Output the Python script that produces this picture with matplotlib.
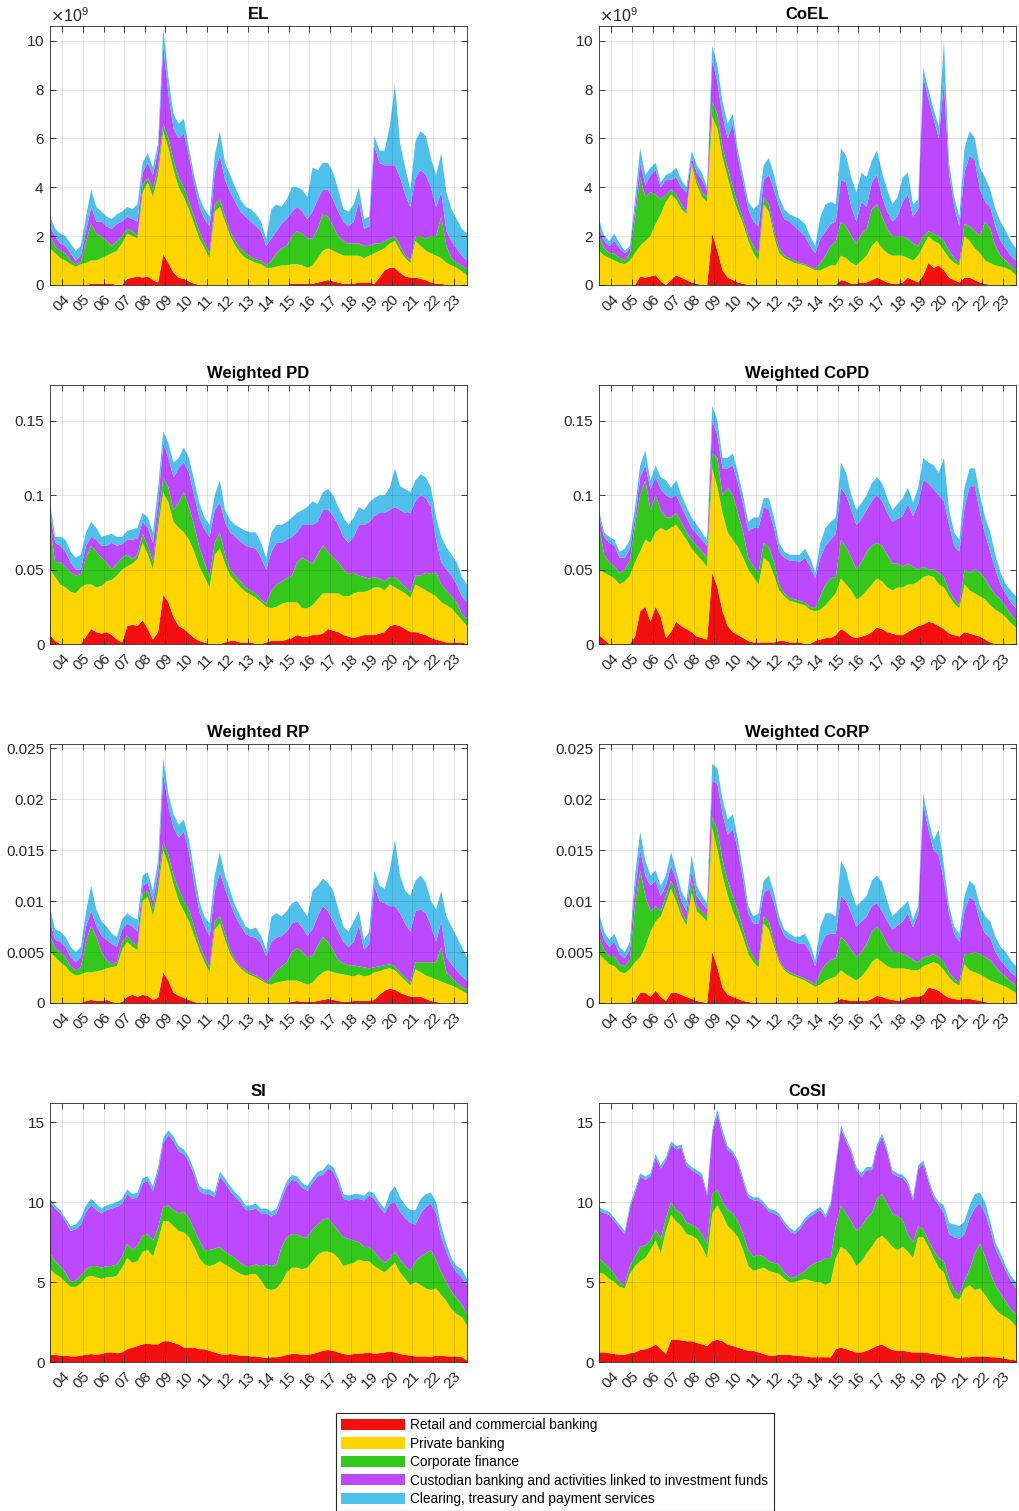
import matplotlib
matplotlib.use("Agg")
import matplotlib.pyplot as plt
import numpy as np
from matplotlib.patches import Patch
from matplotlib.ticker import MultipleLocator, ScalarFormatter, FuncFormatter

plt.rcParams['font.family'] = ['Liberation Sans', 'DejaVu Sans']

# quarterly observations, in decimal years
dates = 2003.4 + 0.25 * np.arange(82)

business_lines = ['Retail and commercial banking',
                  'Private banking',
                  'Corporate finance',
                  'Custodian banking and activities linked to investment funds',
                  'Clearing, treasury and payment services']
line_colors = ['#F20F0F', '#FFD500', '#35C81C', '#BC48FF', '#4FBFEC']

year_ticks = list(range(2004, 2024))
year_labels = ['%02d' % (y % 100) for y in year_ticks]

# every series below is a stacked level (cumulative from the bottom layer up)

# EL, in 1e9
el_retail = [0, 0, 0, 0, 0, 0, 0, 0, 0.05, 0.05,
             0.05, 0.05, 0.05, 0, 0, 0.25, 0.3, 0.35, 0.3, 0.35,
             0.2, 0.1, 1.25, 0.9, 0.5, 0.3, 0.25, 0.15, 0.05, 0,
             0, 0, 0, 0, 0, 0, 0, 0, 0, 0,
             0, 0, 0, 0, 0, 0, 0, 0.05, 0.05, 0.05,
             0.05, 0.05, 0.1, 0.15, 0.2, 0.15, 0.1, 0.05, 0.05, 0.05,
             0.1, 0.1, 0.1, 0.05, 0.3, 0.6, 0.7, 0.7, 0.5, 0.35,
             0.3, 0.3, 0.25, 0.2, 0.1, 0.05, 0.05, 0, 0, 0,
             0, 0]
el_private = [1.5, 1.3, 1.1, 1.0, 0.85, 0.75, 0.85, 0.9, 1.0, 1.0,
              1.1, 1.2, 1.3, 1.4, 1.7, 2.1, 2.0, 1.9, 3.8, 4.2,
              3.6, 4.5, 6.3, 5.6, 4.7, 4.0, 3.6, 3.1, 2.5, 1.9,
              1.5, 1.1, 3.0, 3.2, 2.6, 2.0, 1.6, 1.3, 1.1, 1.0,
              0.9, 0.85, 0.7, 0.7, 0.75, 0.8, 0.8, 0.85, 0.85, 0.8,
              0.7, 0.8, 1.1, 1.4, 1.5, 1.4, 1.3, 1.2, 1.2, 1.2,
              1.2, 1.1, 1.2, 1.3, 1.4, 1.5, 1.7, 1.8, 1.4, 1.1,
              0.9, 1.8, 1.6, 1.4, 1.3, 1.2, 1.1, 0.9, 0.8, 0.7,
              0.55, 0.4]
el_corporate = [2.0, 1.6, 1.4, 1.3, 1.0, 0.85, 0.95, 1.8, 2.5, 2.1,
                2.0, 1.8, 1.6, 1.8, 2.0, 2.3, 2.2, 2.0, 4.1, 4.4,
                3.9, 4.8, 6.6, 6.0, 5.1, 4.4, 4.0, 3.4, 2.8, 2.2,
                1.7, 1.3, 3.3, 3.5, 2.8, 2.2, 1.8, 1.5, 1.3, 1.15,
                1.05, 1.0, 0.8, 1.0, 1.3, 1.5, 1.6, 2.0, 2.2, 2.1,
                1.9, 1.9, 2.3, 2.9, 2.8, 2.4, 2.0, 1.8, 1.7, 1.7,
                1.7, 1.6, 1.6, 1.7, 1.7, 1.8, 1.9, 2.0, 1.6, 1.2,
                1.0, 2.0, 2.0, 1.9, 2.0, 2.0, 2.8, 1.6, 1.1, 0.9,
                0.8, 0.65]
el_custodian = [2.4, 2.0, 1.7, 1.6, 1.3, 1.0, 1.2, 2.2, 3.2, 2.6,
                2.6, 2.4, 2.3, 2.5, 2.6, 2.8, 2.7, 2.6, 4.6, 5.0,
                4.5, 5.5, 9.8, 7.8, 6.4, 6.0, 6.2, 5.3, 4.2, 3.2,
                2.7, 2.4, 4.6, 5.3, 4.3, 3.8, 3.4, 3.0, 2.8, 2.6,
                2.4, 2.2, 1.6, 1.9, 2.2, 2.5, 2.7, 3.0, 3.2, 3.0,
                2.7, 3.0, 3.5, 3.9, 3.9, 3.5, 3.0, 2.6, 2.4, 2.6,
                3.4, 2.3, 2.4, 5.7, 5.0, 4.9, 4.9, 4.9, 4.4, 3.7,
                3.2, 4.4, 4.7, 4.5, 4.0, 3.2, 3.8, 2.2, 1.8, 1.5,
                1.2, 1.0]
el_clearing = [2.8, 2.3, 2.1, 2.0, 1.7, 1.4, 1.6, 2.8, 3.9, 3.2,
               3.0, 2.8, 2.7, 2.9, 3.0, 3.2, 3.1, 3.3, 5.0, 5.4,
               4.8, 5.8, 10.5, 8.5, 7.0, 6.6, 6.8, 5.6, 4.5, 3.6,
               3.1, 2.8, 5.3, 6.3, 5.0, 4.5, 4.0, 3.5, 3.2, 3.1,
               2.9, 2.6, 1.9, 3.1, 3.3, 3.2, 3.5, 4.0, 4.0, 3.9,
               3.6, 4.8, 4.7, 5.0, 5.0, 4.6, 3.9, 3.1, 3.0, 3.3,
               4.0, 2.7, 2.8, 6.1, 5.5, 5.5, 6.5, 8.2, 5.8, 4.8,
               3.9, 5.9, 6.3, 6.1, 5.2, 4.5, 5.4, 3.8, 3.1, 2.7,
               2.3, 2.1]

# CoEL, in 1e9
coel_retail = [0, 0, 0, 0, 0, 0, 0, 0, 0.35, 0.3,
               0.35, 0.4, 0.15, 0, 0.2, 0.4, 0.3, 0.2, 0.1, 0.05,
               0, 0, 2.1, 1.4, 0.6, 0.3, 0.2, 0.1, 0.05, 0,
               0, 0, 0, 0, 0, 0, 0, 0, 0, 0,
               0, 0, 0, 0, 0, 0, 0, 0.2, 0.15, 0.05,
               0.05, 0.1, 0.1, 0.2, 0.3, 0.2, 0.1, 0.05, 0.05, 0.1,
               0.3, 0.2, 0.1, 0.4, 0.9, 0.7, 0.8, 0.6, 0.3, 0.2,
               0.1, 0.3, 0.3, 0.2, 0.1, 0.05, 0, 0, 0, 0,
               0, 0]
coel_private = [1.4, 1.2, 1.1, 1.0, 0.9, 0.85, 1.0, 1.3, 1.6, 1.8,
                2.0, 2.5, 2.9, 3.4, 3.7, 3.5, 3.1, 2.9, 4.9, 4.1,
                3.6, 3.4, 6.9, 6.4, 5.2, 4.4, 3.6, 3.0, 2.5, 1.8,
                1.3, 1.0, 3.3, 3.0, 2.0, 1.3, 1.1, 1.0, 0.9, 0.85,
                0.8, 0.7, 0.6, 0.6, 0.7, 0.8, 0.8, 1.2, 1.1, 0.9,
                0.8, 1.0, 1.2, 1.6, 1.8, 1.5, 1.3, 1.2, 1.2, 1.2,
                1.1, 1.0, 1.2, 1.6, 2.0, 1.8, 1.7, 1.4, 1.1, 0.9,
                0.8, 2.0, 1.8, 1.5, 1.3, 1.0, 0.9, 0.8, 0.75, 0.7,
                0.6, 0.4]
coel_corporate = [2.0, 1.5, 1.3, 1.3, 1.1, 1.0, 1.3, 2.7, 4.4, 3.6,
                  3.8, 3.7, 3.5, 3.7, 3.9, 3.7, 3.3, 3.0, 5.0, 4.3,
                  3.8, 3.6, 7.5, 7.0, 5.6, 4.8, 4.0, 3.3, 2.7, 2.0,
                  1.6, 1.3, 3.6, 3.3, 2.2, 1.5, 1.2, 1.1, 1.0, 0.9,
                  0.85, 0.75, 0.65, 0.9, 1.2, 1.6, 1.8, 2.6, 2.4, 2.0,
                  1.7, 2.1, 2.3, 3.1, 3.3, 2.8, 2.3, 2.0, 2.0, 2.0,
                  1.9, 1.7, 1.6, 2.0, 2.2, 2.1, 2.0, 1.8, 1.4, 1.1,
                  0.9, 2.5, 2.4, 2.2, 2.0, 2.6, 2.3, 1.6, 1.2, 1.0,
                  0.8, 0.6]
coel_custodian = [2.3, 1.8, 1.6, 1.8, 1.5, 1.3, 1.5, 3.1, 5.0, 4.1,
                  4.5, 4.7, 4.0, 4.3, 4.3, 4.4, 4.0, 3.8, 5.2, 4.6,
                  4.3, 3.9, 9.2, 8.3, 6.9, 6.0, 6.6, 5.2, 4.2, 3.1,
                  2.6, 2.4, 4.3, 4.5, 3.9, 3.2, 2.7, 2.6, 2.4, 2.2,
                  2.0, 1.6, 1.3, 1.9, 2.2, 2.5, 2.6, 4.3, 4.2, 3.2,
                  2.6, 3.4, 3.2, 4.2, 4.5, 3.6, 3.0, 2.6, 2.8, 3.4,
                  3.7, 2.8, 3.1, 8.5, 7.6, 6.8, 6.0, 8.3, 4.6, 3.2,
                  2.4, 4.6, 5.3, 5.1, 3.9, 3.4, 3.2, 2.4, 1.8, 1.5,
                  1.2, 1.0]
coel_clearing = [2.7, 2.0, 1.8, 2.1, 1.7, 1.4, 1.6, 3.5, 5.6, 4.5,
                 4.8, 5.0, 4.2, 4.5, 4.6, 4.8, 4.3, 4.0, 5.5, 4.9,
                 4.6, 4.0, 9.8, 9.0, 7.5, 6.6, 7.0, 5.5, 4.5, 3.4,
                 3.1, 3.3, 4.9, 5.2, 4.5, 3.6, 3.1, 2.9, 2.8, 2.7,
                 2.5, 2.0, 1.6, 2.8, 3.3, 3.4, 3.3, 5.6, 5.3, 4.4,
                 3.8, 4.6, 4.4, 5.1, 5.5, 4.6, 3.9, 3.3, 3.6, 4.4,
                 4.6, 3.3, 3.5, 8.9, 8.0, 7.2, 6.5, 10.0, 5.0, 3.6,
                 2.8, 5.6, 6.3, 6.0, 4.8, 4.4, 3.9, 3.1, 2.6, 2.2,
                 1.8, 1.5]

# Weighted PD
pd_retail = [0.006, 0.002, 0, 0, 0, 0, 0, 0.005, 0.010, 0.008,
             0.007, 0.008, 0.006, 0.003, 0.001, 0.012, 0.013, 0.012, 0.016, 0.010,
             0.003, 0.008, 0.033, 0.028, 0.018, 0.012, 0.010, 0.007, 0.004, 0.002,
             0.001, 0, 0, 0, 0.001, 0.002, 0.002, 0.001, 0.001, 0.001,
             0, 0, 0.001, 0.002, 0.002, 0.002, 0.003, 0.004, 0.006, 0.005,
             0.005, 0.006, 0.006, 0.007, 0.010, 0.009, 0.008, 0.006, 0.005, 0.004,
             0.005, 0.006, 0.006, 0.006, 0.007, 0.008, 0.012, 0.013, 0.012, 0.010,
             0.008, 0.008, 0.007, 0.006, 0.004, 0.003, 0.002, 0.001, 0.001, 0.001,
             0.001, 0]
pd_private = [0.050, 0.045, 0.040, 0.038, 0.035, 0.034, 0.038, 0.040, 0.040, 0.038,
              0.039, 0.042, 0.043, 0.046, 0.050, 0.052, 0.054, 0.057, 0.068, 0.060,
              0.050, 0.078, 0.102, 0.095, 0.082, 0.078, 0.075, 0.070, 0.062, 0.052,
              0.045, 0.038, 0.060, 0.064, 0.054, 0.046, 0.042, 0.038, 0.035, 0.033,
              0.031, 0.028, 0.025, 0.024, 0.025, 0.027, 0.028, 0.028, 0.028, 0.024,
              0.024, 0.026, 0.030, 0.034, 0.034, 0.034, 0.034, 0.032, 0.032, 0.034,
              0.035, 0.035, 0.036, 0.038, 0.038, 0.036, 0.040, 0.038, 0.036, 0.034,
              0.031, 0.040, 0.038, 0.036, 0.034, 0.032, 0.028, 0.026, 0.024, 0.020,
              0.016, 0.012]
pd_corporate = [0.080, 0.055, 0.055, 0.052, 0.048, 0.046, 0.047, 0.058, 0.066, 0.062,
                0.058, 0.055, 0.050, 0.054, 0.058, 0.060, 0.057, 0.060, 0.074, 0.066,
                0.055, 0.083, 0.112, 0.105, 0.090, 0.095, 0.102, 0.092, 0.080, 0.065,
                0.055, 0.045, 0.068, 0.075, 0.060, 0.050, 0.046, 0.042, 0.038, 0.036,
                0.034, 0.030, 0.027, 0.036, 0.040, 0.042, 0.044, 0.046, 0.055, 0.058,
                0.056, 0.054, 0.060, 0.066, 0.062, 0.058, 0.055, 0.050, 0.047, 0.048,
                0.046, 0.045, 0.044, 0.045, 0.044, 0.042, 0.045, 0.045, 0.042, 0.038,
                0.035, 0.046, 0.046, 0.048, 0.047, 0.048, 0.040, 0.036, 0.032, 0.028,
                0.020, 0.017]
pd_custodian = [0.088, 0.068, 0.066, 0.062, 0.055, 0.050, 0.050, 0.066, 0.072, 0.070,
                0.066, 0.066, 0.068, 0.066, 0.067, 0.070, 0.070, 0.071, 0.082, 0.078,
                0.068, 0.095, 0.135, 0.125, 0.112, 0.118, 0.122, 0.115, 0.100, 0.085,
                0.077, 0.072, 0.090, 0.095, 0.082, 0.075, 0.072, 0.069, 0.066, 0.065,
                0.064, 0.058, 0.050, 0.062, 0.068, 0.068, 0.070, 0.072, 0.075, 0.080,
                0.080, 0.080, 0.082, 0.090, 0.090, 0.086, 0.080, 0.072, 0.068, 0.072,
                0.080, 0.080, 0.082, 0.086, 0.088, 0.088, 0.090, 0.092, 0.090, 0.088,
                0.088, 0.096, 0.100, 0.098, 0.092, 0.070, 0.055, 0.050, 0.046, 0.040,
                0.032, 0.028]
pd_clearing = [0.095, 0.072, 0.072, 0.070, 0.062, 0.058, 0.060, 0.075, 0.082, 0.078,
               0.072, 0.073, 0.074, 0.072, 0.072, 0.076, 0.077, 0.078, 0.088, 0.085,
               0.075, 0.105, 0.143, 0.135, 0.122, 0.125, 0.132, 0.125, 0.110, 0.095,
               0.085, 0.080, 0.100, 0.110, 0.090, 0.083, 0.080, 0.078, 0.076, 0.075,
               0.075, 0.068, 0.058, 0.075, 0.080, 0.080, 0.082, 0.085, 0.088, 0.090,
               0.092, 0.096, 0.094, 0.102, 0.104, 0.100, 0.092, 0.085, 0.080, 0.085,
               0.092, 0.090, 0.095, 0.098, 0.100, 0.100, 0.105, 0.118, 0.106, 0.104,
               0.102, 0.110, 0.114, 0.112, 0.105, 0.085, 0.072, 0.065, 0.060, 0.055,
               0.045, 0.040]

# Weighted CoPD
copd_retail = [0.006, 0.003, 0, 0, 0, 0, 0, 0.005, 0.022, 0.025,
               0.015, 0.025, 0.018, 0.004, 0.008, 0.015, 0.012, 0.010, 0.008, 0.005,
               0.004, 0.003, 0.048, 0.038, 0.022, 0.012, 0.008, 0.006, 0.004, 0.002,
               0.001, 0.001, 0.001, 0.001, 0.001, 0.002, 0.002, 0.001, 0.001, 0.001,
               0, 0, 0.002, 0.003, 0.004, 0.004, 0.006, 0.010, 0.008, 0.005,
               0.004, 0.005, 0.006, 0.008, 0.011, 0.010, 0.008, 0.007, 0.006, 0.006,
               0.008, 0.010, 0.012, 0.013, 0.015, 0.014, 0.012, 0.010, 0.007, 0.006,
               0.005, 0.008, 0.007, 0.006, 0.005, 0.003, 0.001, 0, 0, 0,
               0, 0]
copd_private = [0.050, 0.048, 0.046, 0.044, 0.040, 0.042, 0.046, 0.055, 0.062, 0.070,
                0.068, 0.075, 0.078, 0.076, 0.078, 0.080, 0.075, 0.070, 0.064, 0.060,
                0.056, 0.052, 0.118, 0.105, 0.088, 0.075, 0.070, 0.065, 0.058, 0.050,
                0.045, 0.040, 0.058, 0.055, 0.046, 0.036, 0.032, 0.029, 0.028, 0.027,
                0.026, 0.023, 0.022, 0.023, 0.026, 0.030, 0.034, 0.044, 0.040, 0.036,
                0.030, 0.032, 0.036, 0.040, 0.044, 0.042, 0.038, 0.036, 0.038, 0.038,
                0.040, 0.040, 0.042, 0.045, 0.046, 0.045, 0.040, 0.038, 0.032, 0.027,
                0.024, 0.040, 0.036, 0.034, 0.032, 0.030, 0.026, 0.023, 0.021, 0.018,
                0.014, 0.011]
copd_corporate = [0.080, 0.060, 0.055, 0.052, 0.048, 0.050, 0.056, 0.080, 0.100, 0.110,
                  0.090, 0.100, 0.090, 0.085, 0.085, 0.088, 0.082, 0.075, 0.070, 0.066,
                  0.062, 0.058, 0.128, 0.125, 0.100, 0.105, 0.100, 0.088, 0.075, 0.058,
                  0.052, 0.048, 0.068, 0.065, 0.055, 0.040, 0.034, 0.031, 0.030, 0.029,
                  0.028, 0.025, 0.024, 0.032, 0.040, 0.044, 0.045, 0.070, 0.065, 0.058,
                  0.050, 0.055, 0.062, 0.066, 0.068, 0.066, 0.060, 0.054, 0.054, 0.052,
                  0.054, 0.052, 0.050, 0.052, 0.050, 0.050, 0.048, 0.045, 0.036, 0.030,
                  0.026, 0.050, 0.048, 0.050, 0.048, 0.044, 0.038, 0.033, 0.030, 0.025,
                  0.020, 0.016]
copd_custodian = [0.086, 0.072, 0.068, 0.066, 0.058, 0.058, 0.064, 0.085, 0.112, 0.120,
                  0.104, 0.112, 0.104, 0.100, 0.098, 0.100, 0.092, 0.085, 0.078, 0.074,
                  0.070, 0.066, 0.150, 0.140, 0.118, 0.118, 0.120, 0.108, 0.094, 0.076,
                  0.078, 0.078, 0.092, 0.090, 0.078, 0.062, 0.058, 0.056, 0.056, 0.055,
                  0.058, 0.052, 0.044, 0.058, 0.066, 0.070, 0.074, 0.105, 0.100, 0.090,
                  0.080, 0.084, 0.090, 0.096, 0.100, 0.096, 0.088, 0.082, 0.084, 0.086,
                  0.094, 0.086, 0.094, 0.110, 0.108, 0.104, 0.100, 0.096, 0.080, 0.066,
                  0.062, 0.092, 0.106, 0.106, 0.088, 0.074, 0.062, 0.050, 0.040, 0.034,
                  0.028, 0.024]
copd_clearing = [0.090, 0.075, 0.072, 0.070, 0.062, 0.064, 0.070, 0.092, 0.120, 0.130,
                 0.110, 0.120, 0.112, 0.110, 0.105, 0.110, 0.100, 0.092, 0.085, 0.080,
                 0.075, 0.070, 0.160, 0.150, 0.125, 0.125, 0.128, 0.115, 0.100, 0.082,
                 0.085, 0.085, 0.098, 0.098, 0.085, 0.068, 0.062, 0.060, 0.060, 0.060,
                 0.064, 0.058, 0.048, 0.068, 0.078, 0.082, 0.085, 0.122, 0.115, 0.100,
                 0.090, 0.095, 0.100, 0.108, 0.112, 0.108, 0.098, 0.090, 0.094, 0.098,
                 0.105, 0.095, 0.105, 0.125, 0.122, 0.120, 0.115, 0.125, 0.090, 0.075,
                 0.070, 0.105, 0.118, 0.118, 0.100, 0.085, 0.075, 0.060, 0.048, 0.040,
                 0.036, 0.032]

# Weighted RP
rp_retail = [0, 0, 0, 0, 0, 0, 0, 0.0002, 0.0003, 0.0002,
             0.0002, 0.0003, 0.0001, 0, 0.0001, 0.0006, 0.0008, 0.0006, 0.0008, 0.0007,
             0.0003, 0.0005, 0.0030, 0.0022, 0.0010, 0.0007, 0.0005, 0.0003, 0.0001, 0,
             0, 0, 0, 0, 0, 0, 0, 0, 0, 0,
             0, 0, 0, 0, 0, 0, 0, 0.0001, 0.0002, 0.0001,
             0.0001, 0.0001, 0.0002, 0.0003, 0.0004, 0.0003, 0.0002, 0.0001, 0.0001, 0.0002,
             0.0002, 0.0002, 0.0002, 0.0003, 0.0008, 0.0012, 0.0014, 0.0013, 0.0010, 0.0008,
             0.0006, 0.0006, 0.0006, 0.0004, 0.0002, 0.0001, 0, 0, 0, 0,
             0, 0]
rp_private = [0.0050, 0.0045, 0.0040, 0.0036, 0.0030, 0.0027, 0.0028, 0.0030, 0.0030, 0.0031,
              0.0032, 0.0034, 0.0035, 0.0036, 0.0052, 0.0060, 0.0055, 0.0052, 0.0100, 0.0104,
              0.0085, 0.0110, 0.0150, 0.0136, 0.0116, 0.0100, 0.0090, 0.0080, 0.0066, 0.0052,
              0.0040, 0.0030, 0.0072, 0.0078, 0.0062, 0.0048, 0.0040, 0.0034, 0.0030, 0.0027,
              0.0025, 0.0022, 0.0019, 0.0018, 0.0020, 0.0021, 0.0022, 0.0022, 0.0022, 0.0020,
              0.0018, 0.0020, 0.0026, 0.0030, 0.0032, 0.0030, 0.0029, 0.0028, 0.0027, 0.0026,
              0.0028, 0.0026, 0.0027, 0.0030, 0.0031, 0.0033, 0.0034, 0.0032, 0.0027, 0.0022,
              0.0017, 0.0033, 0.0030, 0.0027, 0.0025, 0.0023, 0.0021, 0.0019, 0.0017, 0.0015,
              0.0012, 0.0009]
rp_corporate = [0.0066, 0.0054, 0.0050, 0.0045, 0.0036, 0.0032, 0.0035, 0.0060, 0.0076, 0.0065,
                0.0050, 0.0042, 0.0038, 0.0040, 0.0060, 0.0066, 0.0060, 0.0056, 0.0108, 0.0110,
                0.0092, 0.0118, 0.0158, 0.0145, 0.0125, 0.0112, 0.0100, 0.0092, 0.0075, 0.0058,
                0.0045, 0.0035, 0.0080, 0.0085, 0.0068, 0.0052, 0.0042, 0.0036, 0.0032, 0.0029,
                0.0027, 0.0024, 0.0020, 0.0025, 0.0032, 0.0036, 0.0040, 0.0050, 0.0054, 0.0050,
                0.0045, 0.0046, 0.0056, 0.0065, 0.0060, 0.0052, 0.0042, 0.0039, 0.0037, 0.0037,
                0.0036, 0.0035, 0.0034, 0.0035, 0.0036, 0.0037, 0.0038, 0.0036, 0.0030, 0.0025,
                0.0020, 0.0040, 0.0040, 0.0040, 0.0040, 0.0040, 0.0055, 0.0030, 0.0025, 0.0020,
                0.0016, 0.0013]
rp_custodian = [0.0080, 0.0062, 0.0060, 0.0055, 0.0045, 0.0040, 0.0045, 0.0075, 0.0090, 0.0076,
                0.0066, 0.0062, 0.0058, 0.0055, 0.0072, 0.0078, 0.0075, 0.0070, 0.0115, 0.0118,
                0.0100, 0.0128, 0.0225, 0.0192, 0.0172, 0.0162, 0.0168, 0.0148, 0.0118, 0.0090,
                0.0076, 0.0065, 0.0110, 0.0128, 0.0112, 0.0098, 0.0085, 0.0076, 0.0068, 0.0065,
                0.0064, 0.0058, 0.0046, 0.0060, 0.0064, 0.0066, 0.0070, 0.0078, 0.0080, 0.0074,
                0.0066, 0.0072, 0.0085, 0.0095, 0.0090, 0.0080, 0.0070, 0.0060, 0.0055, 0.0060,
                0.0076, 0.0052, 0.0058, 0.0115, 0.0100, 0.0098, 0.0095, 0.0095, 0.0088, 0.0078,
                0.0070, 0.0090, 0.0092, 0.0088, 0.0076, 0.0060, 0.0080, 0.0045, 0.0038, 0.0032,
                0.0026, 0.0022]
rp_clearing = [0.0093, 0.0072, 0.0070, 0.0065, 0.0055, 0.0050, 0.0055, 0.0090, 0.0115, 0.0092,
               0.0080, 0.0075, 0.0068, 0.0065, 0.0082, 0.0088, 0.0084, 0.0082, 0.0125, 0.0128,
               0.0110, 0.0140, 0.0240, 0.0205, 0.0185, 0.0175, 0.0180, 0.0160, 0.0130, 0.0100,
               0.0085, 0.0078, 0.0125, 0.0148, 0.0125, 0.0110, 0.0095, 0.0085, 0.0075, 0.0072,
               0.0074, 0.0066, 0.0052, 0.0085, 0.0088, 0.0085, 0.0090, 0.0098, 0.0100, 0.0092,
               0.0085, 0.0110, 0.0115, 0.0122, 0.0118, 0.0110, 0.0092, 0.0075, 0.0070, 0.0080,
               0.0090, 0.0062, 0.0070, 0.0130, 0.0115, 0.0112, 0.0130, 0.0160, 0.0125, 0.0110,
               0.0105, 0.0120, 0.0125, 0.0118, 0.0100, 0.0092, 0.0110, 0.0085, 0.0075, 0.0065,
               0.0055, 0.0045]

# Weighted CoRP
corp_retail = [0, 0, 0, 0, 0, 0, 0, 0.0002, 0.0010, 0.0010,
               0.0006, 0.0012, 0.0006, 0.0002, 0.0010, 0.0010, 0.0008, 0.0006, 0.0004, 0.0002,
               0.0001, 0, 0.0050, 0.0035, 0.0015, 0.0008, 0.0006, 0.0004, 0.0002, 0.0001,
               0, 0, 0, 0, 0, 0, 0, 0, 0, 0,
               0, 0, 0, 0, 0, 0, 0.0001, 0.0004, 0.0003, 0.0002,
               0.0002, 0.0002, 0.0002, 0.0004, 0.0007, 0.0006, 0.0004, 0.0003, 0.0002, 0.0003,
               0.0005, 0.0006, 0.0006, 0.0008, 0.0015, 0.0014, 0.0012, 0.0008, 0.0005, 0.0004,
               0.0003, 0.0004, 0.0004, 0.0003, 0.0002, 0.0001, 0, 0, 0, 0,
               0, 0]
corp_private = [0.0048, 0.0043, 0.0038, 0.0036, 0.0031, 0.0029, 0.0033, 0.0040, 0.0045, 0.0055,
                0.0070, 0.0080, 0.0085, 0.0098, 0.0112, 0.0100, 0.0085, 0.0076, 0.0108, 0.0090,
                0.0085, 0.0080, 0.0172, 0.0150, 0.0125, 0.0105, 0.0090, 0.0078, 0.0064, 0.0048,
                0.0040, 0.0035, 0.0078, 0.0072, 0.0055, 0.0040, 0.0032, 0.0028, 0.0026, 0.0024,
                0.0022, 0.0019, 0.0016, 0.0018, 0.0022, 0.0024, 0.0026, 0.0032, 0.0028, 0.0025,
                0.0022, 0.0026, 0.0032, 0.0040, 0.0044, 0.0040, 0.0036, 0.0034, 0.0034, 0.0034,
                0.0033, 0.0032, 0.0032, 0.0036, 0.0038, 0.0040, 0.0038, 0.0032, 0.0025, 0.0020,
                0.0017, 0.0038, 0.0032, 0.0030, 0.0028, 0.0025, 0.0022, 0.0020, 0.0018, 0.0016,
                0.0013, 0.0010]
corp_corporate = [0.0065, 0.0052, 0.0046, 0.0046, 0.0038, 0.0036, 0.0042, 0.0095, 0.0130, 0.0105,
                  0.0090, 0.0095, 0.0090, 0.0105, 0.0120, 0.0108, 0.0090, 0.0080, 0.0120, 0.0095,
                  0.0090, 0.0085, 0.0182, 0.0170, 0.0140, 0.0120, 0.0105, 0.0090, 0.0072, 0.0055,
                  0.0045, 0.0040, 0.0085, 0.0080, 0.0060, 0.0042, 0.0034, 0.0030, 0.0028, 0.0026,
                  0.0024, 0.0021, 0.0018, 0.0030, 0.0038, 0.0042, 0.0044, 0.0065, 0.0060, 0.0052,
                  0.0045, 0.0050, 0.0058, 0.0070, 0.0075, 0.0068, 0.0058, 0.0050, 0.0050, 0.0048,
                  0.0046, 0.0042, 0.0040, 0.0045, 0.0046, 0.0048, 0.0045, 0.0040, 0.0030, 0.0024,
                  0.0020, 0.0048, 0.0048, 0.0050, 0.0048, 0.0045, 0.0042, 0.0036, 0.0030, 0.0026,
                  0.0021, 0.0017]
corp_custodian = [0.0078, 0.0062, 0.0055, 0.0060, 0.0048, 0.0044, 0.0052, 0.0112, 0.0150, 0.0125,
                  0.0115, 0.0120, 0.0105, 0.0115, 0.0135, 0.0120, 0.0100, 0.0090, 0.0130, 0.0105,
                  0.0098, 0.0092, 0.0218, 0.0215, 0.0185, 0.0165, 0.0170, 0.0150, 0.0120, 0.0088,
                  0.0078, 0.0078, 0.0108, 0.0112, 0.0098, 0.0078, 0.0066, 0.0062, 0.0060, 0.0058,
                  0.0058, 0.0050, 0.0036, 0.0055, 0.0066, 0.0068, 0.0068, 0.0105, 0.0100, 0.0088,
                  0.0075, 0.0080, 0.0085, 0.0095, 0.0098, 0.0090, 0.0080, 0.0072, 0.0076, 0.0080,
                  0.0088, 0.0074, 0.0088, 0.0195, 0.0170, 0.0150, 0.0145, 0.0120, 0.0088, 0.0068,
                  0.0060, 0.0090, 0.0104, 0.0100, 0.0080, 0.0068, 0.0064, 0.0050, 0.0042, 0.0036,
                  0.0030, 0.0026]
corp_clearing = [0.0088, 0.0070, 0.0062, 0.0068, 0.0055, 0.0050, 0.0060, 0.0125, 0.0168, 0.0140,
                 0.0125, 0.0130, 0.0115, 0.0125, 0.0148, 0.0130, 0.0110, 0.0100, 0.0145, 0.0115,
                 0.0105, 0.0098, 0.0235, 0.0230, 0.0200, 0.0180, 0.0185, 0.0160, 0.0130, 0.0095,
                 0.0085, 0.0088, 0.0120, 0.0125, 0.0108, 0.0085, 0.0072, 0.0068, 0.0065, 0.0065,
                 0.0068, 0.0058, 0.0042, 0.0075, 0.0088, 0.0088, 0.0085, 0.0140, 0.0130, 0.0110,
                 0.0095, 0.0100, 0.0105, 0.0120, 0.0125, 0.0118, 0.0100, 0.0085, 0.0090, 0.0095,
                 0.0100, 0.0082, 0.0095, 0.0205, 0.0180, 0.0160, 0.0170, 0.0135, 0.0095, 0.0075,
                 0.0068, 0.0105, 0.0120, 0.0115, 0.0095, 0.0085, 0.0080, 0.0065, 0.0055, 0.0050,
                 0.0042, 0.0036]

# SI
si_retail = [0.45, 0.45, 0.4, 0.4, 0.35, 0.35, 0.4, 0.45, 0.5, 0.45,
             0.5, 0.6, 0.6, 0.55, 0.6, 0.8, 0.9, 1.0, 1.1, 1.15,
             1.1, 1.1, 1.3, 1.3, 1.2, 1.1, 0.9, 0.9, 0.9, 0.8,
             0.8, 0.7, 0.6, 0.5, 0.45, 0.5, 0.45, 0.4, 0.4, 0.35,
             0.35, 0.3, 0.25, 0.3, 0.3, 0.35, 0.45, 0.5, 0.5, 0.45,
             0.45, 0.5, 0.6, 0.7, 0.75, 0.7, 0.6, 0.5, 0.45, 0.5,
             0.5, 0.55, 0.6, 0.5, 0.55, 0.6, 0.65, 0.6, 0.5, 0.45,
             0.4, 0.35, 0.35, 0.35, 0.3, 0.4, 0.4, 0.35, 0.35, 0.35,
             0.3, 0.1]
si_private = [5.8, 5.5, 5.3, 5.0, 4.7, 4.7, 4.9, 5.3, 5.4, 5.3,
              5.2, 5.3, 5.3, 5.4, 5.9, 6.5, 6.2, 6.3, 6.9, 7.0,
              6.6, 7.6, 8.8, 8.8, 8.5, 8.2, 8.1, 7.8, 7.2, 6.5,
              6.1, 6.0, 6.1, 6.3, 6.1, 5.9, 5.7, 5.5, 5.4, 5.5,
              5.5, 5.1, 4.6, 4.5, 4.6, 5.0, 5.6, 5.9, 5.9, 5.8,
              5.9, 6.3, 6.7, 6.9, 6.9, 6.8, 6.5, 6.0, 6.1, 6.2,
              6.4, 6.3, 6.3, 6.0, 5.8, 5.6, 5.9, 6.2, 5.6, 5.2,
              4.8, 5.0, 4.8, 4.6, 4.5, 4.6, 4.2, 3.8, 3.3, 3.0,
              2.8, 2.3]
si_corporate = [6.8, 6.3, 6.0, 5.6, 5.0, 5.1, 5.4, 5.8, 6.0, 6.0,
                5.9, 6.0, 6.0, 6.1, 6.6, 7.4, 7.0, 7.3, 7.9, 8.0,
                7.6, 8.4, 9.7, 9.8, 9.5, 9.3, 9.4, 9.0, 8.3, 7.6,
                7.0, 7.0, 7.1, 7.2, 6.9, 6.7, 6.5, 6.2, 6.0, 6.0,
                6.1, 6.0, 6.1, 6.0, 6.1, 7.2, 7.8, 8.0, 8.0, 7.8,
                7.8, 8.3, 8.6, 8.9, 9.0, 8.6, 8.2, 7.8, 7.7, 7.6,
                7.5, 7.2, 7.2, 6.9, 6.5, 6.2, 6.5, 6.9, 6.4, 6.0,
                5.7, 6.3, 6.6, 6.8, 7.0, 6.4, 5.6, 5.0, 4.4, 4.0,
                3.6, 3.0]
si_custodian = [10.0, 9.6, 9.3, 8.8, 8.2, 8.3, 8.6, 9.4, 9.8, 9.5,
                9.3, 9.5, 9.6, 9.7, 9.9, 10.5, 10.2, 10.3, 11.2, 11.3,
                10.7, 11.9, 13.7, 14.2, 13.8, 13.2, 13.0, 12.5, 11.7, 10.7,
                10.5, 10.5, 10.3, 11.6, 11.2, 10.7, 10.3, 10.0, 9.5, 9.5,
                9.6, 9.3, 9.3, 9.1, 9.3, 10.2, 11.0, 11.4, 11.3, 10.9,
                10.7, 11.2, 11.6, 11.7, 12.1, 11.9, 11.2, 10.2, 10.1, 10.2,
                10.2, 10.1, 10.4, 10.2, 9.7, 9.3, 9.9, 10.0, 9.4, 9.0,
                8.7, 8.6, 9.3, 9.7, 9.9, 9.3, 7.8, 6.9, 6.1, 5.6,
                5.3, 4.8]
si_clearing = [10.2, 9.8, 9.5, 9.0, 8.5, 8.6, 9.0, 9.8, 10.2, 9.9,
               9.6, 9.8, 9.9, 10.0, 10.2, 10.8, 10.5, 10.6, 11.5, 11.6,
               11.0, 12.2, 14.0, 14.5, 14.1, 13.5, 13.3, 12.8, 12.0, 11.0,
               10.8, 10.8, 10.6, 11.9, 11.5, 11.0, 10.6, 10.3, 9.8, 9.8,
               9.9, 9.6, 9.6, 9.4, 9.6, 10.5, 11.3, 11.7, 11.6, 11.2,
               11.0, 11.5, 11.9, 12.0, 12.4, 12.2, 11.5, 10.5, 10.4, 10.5,
               10.5, 10.4, 10.7, 10.5, 10.0, 9.6, 10.6, 11.0, 10.3, 9.8,
               9.5, 9.5, 10.2, 10.5, 10.6, 10.0, 8.5, 7.4, 6.5, 6.0,
               5.8, 5.2]

# CoSI
cosi_retail = [0.6, 0.6, 0.55, 0.5, 0.45, 0.45, 0.55, 0.6, 0.75, 0.8,
               0.9, 1.1, 0.8, 0.5, 1.4, 1.4, 1.35, 1.3, 1.3, 1.2,
               1.1, 1.0, 1.3, 1.4, 1.3, 1.1, 1.0, 0.9, 0.8, 0.7,
               0.7, 0.6, 0.5, 0.4, 0.4, 0.45, 0.45, 0.45, 0.4, 0.4,
               0.35, 0.3, 0.3, 0.3, 0.3, 0.3, 0.8, 0.9, 0.8, 0.7,
               0.6, 0.6, 0.7, 0.85, 1.0, 1.1, 0.9, 0.75, 0.7, 0.7,
               0.65, 0.6, 0.6, 0.6, 0.55, 0.5, 0.45, 0.4, 0.35, 0.3,
               0.25, 0.3, 0.3, 0.35, 0.35, 0.35, 0.3, 0.3, 0.25, 0.2,
               0.15, 0.1]
cosi_private = [5.6, 5.5, 5.2, 5.0, 4.7, 4.6, 5.5, 6.0, 6.3, 6.5,
                7.0, 7.6, 6.8, 8.2, 9.2, 8.8, 8.5, 8.0, 7.9, 7.7,
                7.2, 6.5, 9.3, 9.8, 9.2, 8.5, 8.2, 7.8, 7.0, 6.0,
                5.7, 5.8, 5.9, 5.7, 5.6, 5.5, 5.2, 5.0, 5.0, 5.1,
                5.2, 5.1, 5.0, 5.0, 4.8, 5.0, 6.5, 7.2, 7.0, 6.6,
                6.0, 6.3, 6.8, 7.2, 7.7, 7.9, 7.6, 7.2, 7.0, 7.2,
                6.9, 6.5, 7.8, 7.8, 7.2, 6.5, 5.9, 5.6, 4.6, 4.0,
                3.9, 4.6, 4.8, 4.5, 4.6, 4.2, 3.7, 3.3, 3.0, 2.8,
                2.6, 2.2]
cosi_corporate = [6.5, 6.2, 5.9, 5.5, 5.0, 4.8, 6.0, 6.6, 7.2, 7.3,
                  7.6, 8.3, 7.7, 9.0, 10.0, 9.5, 9.3, 8.7, 8.6, 8.4,
                  8.0, 7.4, 10.5, 10.8, 10.0, 9.5, 9.3, 8.8, 8.0, 7.0,
                  6.6, 6.7, 6.6, 6.3, 6.2, 6.1, 5.6, 5.3, 5.3, 5.5,
                  5.7, 6.0, 6.2, 6.3, 6.5, 6.5, 8.5, 9.8, 9.3, 8.8,
                  8.2, 8.5, 9.0, 9.3, 10.2, 10.5, 9.9, 9.3, 9.1, 8.9,
                  8.0, 7.5, 8.5, 8.3, 7.6, 7.0, 6.5, 6.3, 5.2, 4.5,
                  4.2, 5.1, 5.8, 6.8, 7.4, 6.6, 5.6, 4.8, 4.3, 3.8,
                  3.3, 3.0]
cosi_custodian = [9.5, 9.3, 9.2, 8.8, 8.4, 8.0, 9.6, 10.6, 11.6, 11.4,
                  11.6, 12.8, 12.1, 12.6, 13.6, 13.3, 13.4, 12.3, 12.0, 11.8,
                  11.6, 10.4, 14.3, 15.5, 14.2, 13.3, 13.0, 12.4, 11.3, 10.3,
                  10.1, 10.1, 9.8, 9.4, 9.3, 9.1, 8.6, 8.2, 8.0, 8.3,
                  8.8, 9.1, 9.3, 9.5, 9.0, 9.8, 12.3, 14.6, 13.8, 13.1,
                  12.0, 11.6, 12.0, 12.0, 13.4, 14.1, 13.1, 11.8, 11.6, 11.5,
                  11.1, 10.1, 12.1, 12.4, 11.3, 10.3, 9.8, 9.3, 8.0, 7.8,
                  7.7, 8.0, 9.0, 9.6, 9.9, 9.3, 8.3, 7.1, 6.4, 5.7,
                  5.1, 4.6]
cosi_clearing = [9.7, 9.5, 9.4, 9.0, 8.6, 8.2, 9.8, 10.8, 11.8, 11.6,
                 11.8, 13.0, 12.3, 12.8, 13.8, 13.5, 13.6, 12.5, 12.2, 12.0,
                 11.8, 10.6, 14.5, 15.8, 14.5, 13.5, 13.2, 12.6, 11.5, 10.5,
                 10.3, 10.3, 10.0, 9.6, 9.5, 9.3, 8.8, 8.4, 8.2, 8.5,
                 9.0, 9.3, 9.5, 9.7, 9.2, 10.0, 12.5, 14.8, 14.0, 13.3,
                 12.2, 11.8, 12.2, 12.2, 13.6, 14.3, 13.3, 12.0, 11.8, 11.7,
                 11.3, 10.3, 12.3, 12.6, 11.5, 10.5, 10.0, 9.8, 8.7, 8.6,
                 8.5, 8.8, 9.8, 10.5, 10.6, 10.0, 8.8, 7.5, 6.8, 6.0,
                 5.4, 5.0]

# title, stacked levels, unit scale, y max, y tick step
panels = [
    ('EL', [el_retail, el_private, el_corporate, el_custodian, el_clearing], 1e9, 10.6e9, 2e9),
    ('CoEL', [coel_retail, coel_private, coel_corporate, coel_custodian, coel_clearing], 1e9, 10.6e9, 2e9),
    ('Weighted PD', [pd_retail, pd_private, pd_corporate, pd_custodian, pd_clearing], 1, 0.174, 0.05),
    ('Weighted CoPD', [copd_retail, copd_private, copd_corporate, copd_custodian, copd_clearing], 1, 0.174, 0.05),
    ('Weighted RP', [rp_retail, rp_private, rp_corporate, rp_custodian, rp_clearing], 1, 0.0254, 0.005),
    ('Weighted CoRP', [corp_retail, corp_private, corp_corporate, corp_custodian, corp_clearing], 1, 0.0254, 0.005),
    ('SI', [si_retail, si_private, si_corporate, si_custodian, si_clearing], 1, 16.2, 5),
    ('CoSI', [cosi_retail, cosi_private, cosi_corporate, cosi_custodian, cosi_clearing], 1, 16.2, 5),
]

W, H = 1020, 1511
fig = plt.figure(figsize=(W / 100, H / 100), dpi=100)

col_left = [50, 599]
row_bottom = [285, 644, 1003, 1362]
ax_w, ax_h = 417, 259
axis_color = '#262626'

for i, (title, levels, scale, ymax, ystep) in enumerate(panels):
    left = col_left[i % 2]
    bottom = row_bottom[i // 2]
    ax = fig.add_axes([left / W, 1 - bottom / H, ax_w / W, ax_h / H])

    stacked = np.array(levels, dtype=float) * scale
    layers = np.diff(np.vstack([np.zeros(len(dates)), stacked]), axis=0)
    layers = np.clip(layers, 0, None)
    ax.stackplot(dates, layers, colors=line_colors, linewidth=0, antialiased=True)

    ax.set_xlim(dates[0], dates[-1])
    ax.set_ylim(0, ymax)
    ax.set_xticks(year_ticks)
    ax.set_xticklabels(year_labels, rotation=45, ha='right', va='top',
                       rotation_mode='anchor', fontsize=10.5)
    ax.yaxis.set_major_locator(MultipleLocator(ystep))
    if scale != 1:
        # fixed exponent so the offset reads x10^9
        fmt = ScalarFormatter(useMathText=True)
        fmt.set_powerlimits((9, 9))
        ax.yaxis.set_major_formatter(fmt)
        ax.yaxis.get_offset_text().set_fontsize(11.5)
        ax.yaxis.get_offset_text().set_color(axis_color)
    else:
        ax.yaxis.set_major_formatter(FuncFormatter(lambda v, p: '%g' % round(v, 6)))

    ax.tick_params(direction='in', top=True, right=True, length=4, width=0.6,
                   colors=axis_color, labelsize=11, pad=4)
    ax.tick_params(axis='x', pad=5)
    ax.grid(True, color=axis_color, alpha=0.15, linewidth=0.6)
    ax.set_axisbelow(False)
    for sp in ax.spines.values():
        sp.set_color(axis_color)
        sp.set_linewidth(0.6)
    ax.set_title(title, fontsize=12, fontweight='bold', pad=5)

handles = [Patch(facecolor=c, edgecolor='none') for c in line_colors]
leg = fig.legend(handles, business_lines, loc='upper left',
                 bbox_to_anchor=(336 / W, 1 - 1413 / H), fontsize=9.8,
                 handlelength=4.7, handleheight=0.9, handletextpad=0.35,
                 labelspacing=0.32, borderpad=0.4, borderaxespad=0,
                 frameon=True, fancybox=False, framealpha=1, edgecolor=axis_color)
leg.get_frame().set_linewidth(0.8)

fig.savefig('out.png', dpi=100)
